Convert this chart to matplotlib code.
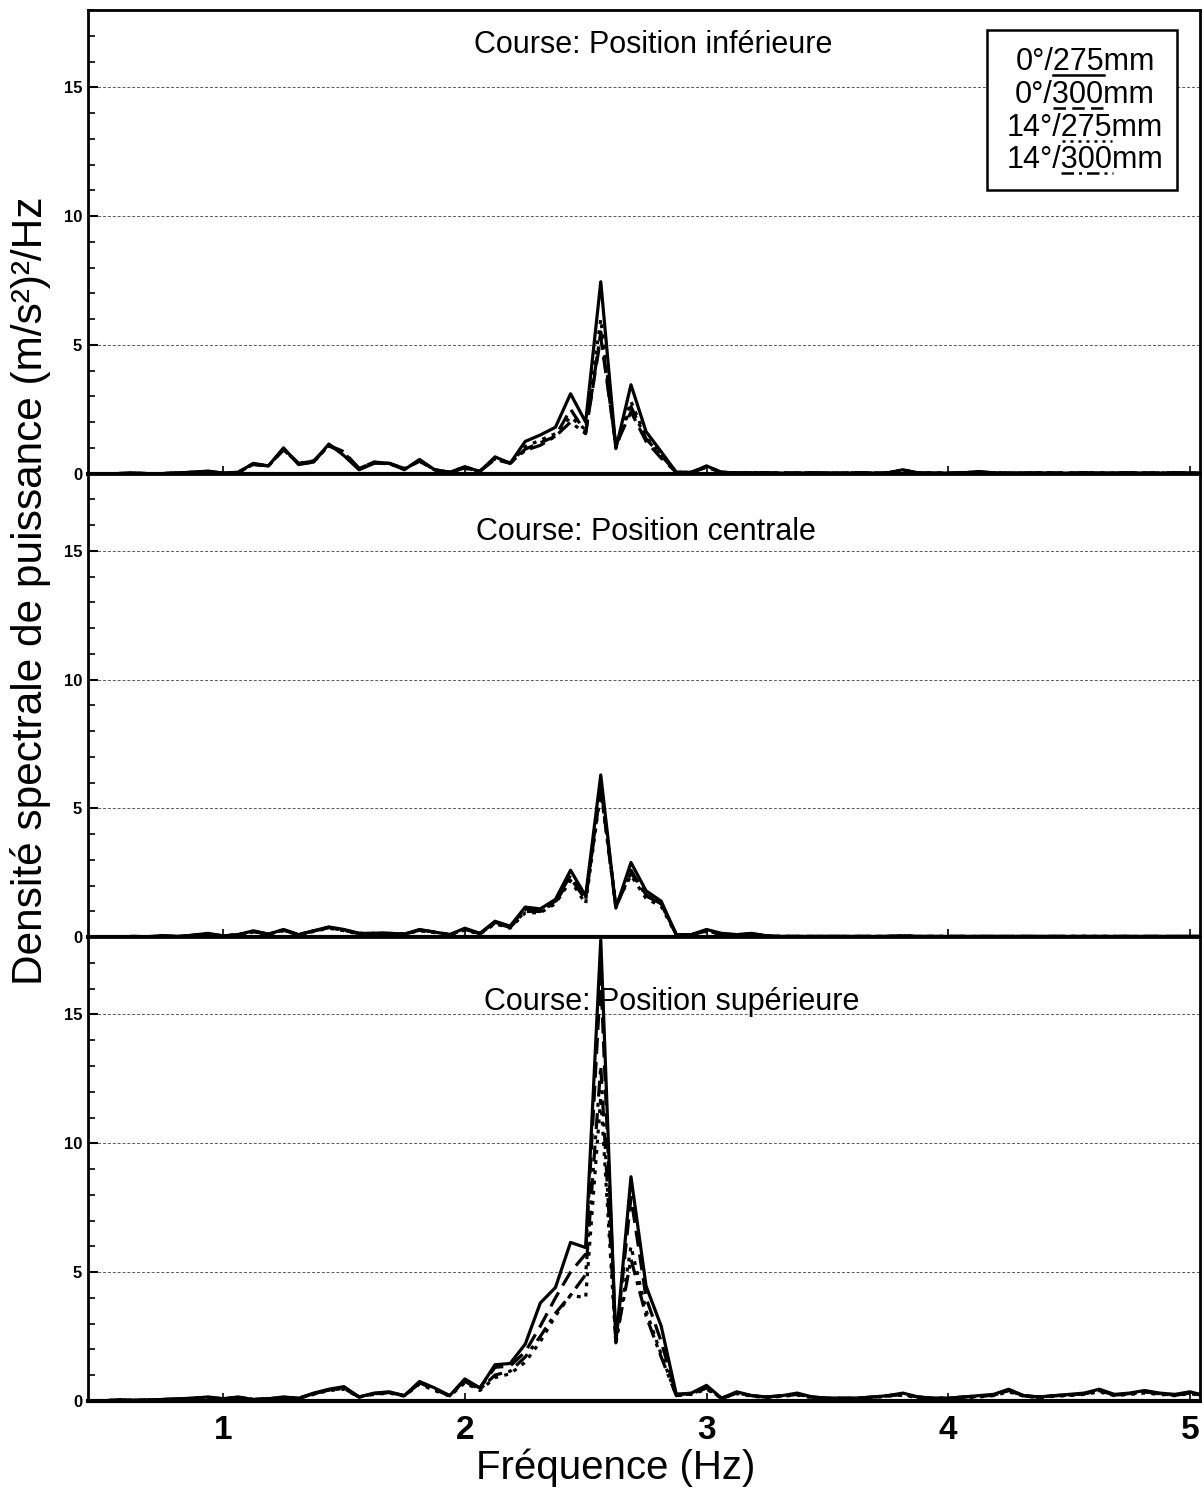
import numpy as np
import matplotlib
matplotlib.use('Agg')
from matplotlib import pyplot as plt
from matplotlib.patches import Rectangle
from matplotlib.ticker import MultipleLocator

plt.rcParams['font.family'] = ['Liberation Sans', 'DejaVu Sans']

# frecuencias (Hz)
freq = [0.4375, 0.5, 0.5625, 0.625, 0.6875, 0.75, 0.8125, 0.875, 0.9375, 1.0,
        1.0625, 1.125, 1.1875, 1.25, 1.3125, 1.375, 1.4375, 1.5, 1.5625, 1.625,
        1.6875, 1.75, 1.8125, 1.875, 1.9375, 2.0, 2.0625, 2.125, 2.1875, 2.25,
        2.3125, 2.375, 2.4375, 2.5, 2.5625, 2.625, 2.6875, 2.75, 2.8125, 2.875,
        2.9375, 3.0, 3.0625, 3.125, 3.1875, 3.25, 3.3125, 3.375, 3.4375, 3.5,
        3.5625, 3.625, 3.6875, 3.75, 3.8125, 3.875, 3.9375, 4.0, 4.0625, 4.125,
        4.1875, 4.25, 4.3125, 4.375, 4.4375, 4.5, 4.5625, 4.625, 4.6875, 4.75,
        4.8125, 4.875, 4.9375, 5.0, 5.0625]

# Course: Position inferieure
inf_0_275 = [0.0, 0.0, 0.0, 0.02, 0.0, 0.0, 0.03, 0.05, 0.1, 0.02,
             0.05, 0.4, 0.3, 1.0, 0.35, 0.45, 1.15, 0.7, 0.15, 0.4,
             0.4, 0.15, 0.55, 0.15, 0.05, 0.27, 0.08, 0.65, 0.4, 1.25,
             1.5, 1.8, 3.1, 2.0, 7.45, 0.97, 3.45, 1.63, 0.85, 0.05,
             0.05, 0.3, 0.05, 0.03, 0.03, 0.03, 0.02, 0.02, 0.03, 0.02,
             0.02, 0.03, 0.02, 0.03, 0.15, 0.03, 0.02, 0.02, 0.03, 0.08,
             0.03, 0.02, 0.02, 0.03, 0.02, 0.02, 0.03, 0.02, 0.02, 0.03,
             0.02, 0.02, 0.03, 0.02, 0.02]
inf_0_300 = [0.0, 0.0, 0.0, 0.02, 0.0, 0.0, 0.03, 0.05, 0.08, 0.02,
             0.05, 0.35, 0.3, 0.95, 0.4, 0.5, 1.1, 0.85, 0.2, 0.45,
             0.4, 0.2, 0.5, 0.15, 0.05, 0.22, 0.1, 0.55, 0.4, 0.95,
             1.2, 1.45, 2.5, 1.6, 5.3, 1.1, 2.4, 1.25, 0.6, 0.05,
             0.05, 0.25, 0.05, 0.03, 0.03, 0.03, 0.02, 0.02, 0.03, 0.02,
             0.02, 0.03, 0.02, 0.03, 0.12, 0.03, 0.02, 0.02, 0.03, 0.06,
             0.03, 0.02, 0.02, 0.03, 0.02, 0.02, 0.03, 0.02, 0.02, 0.03,
             0.02, 0.02, 0.03, 0.02, 0.02]
inf_14_275 = [0.0, 0.0, 0.0, 0.02, 0.0, 0.0, 0.03, 0.05, 0.08, 0.02,
              0.05, 0.38, 0.3, 0.95, 0.38, 0.45, 1.1, 0.75, 0.18, 0.42,
              0.38, 0.17, 0.5, 0.15, 0.05, 0.25, 0.08, 0.6, 0.38, 1.05,
              1.3, 1.55, 2.2, 1.7, 6.0, 1.0, 2.8, 1.4, 0.75, 0.05,
              0.05, 0.28, 0.05, 0.03, 0.03, 0.03, 0.02, 0.02, 0.03, 0.02,
              0.02, 0.03, 0.02, 0.03, 0.14, 0.03, 0.02, 0.02, 0.03, 0.07,
              0.03, 0.02, 0.02, 0.03, 0.02, 0.02, 0.03, 0.02, 0.02, 0.03,
              0.02, 0.02, 0.03, 0.02, 0.02]
inf_14_300 = [0.0, 0.0, 0.0, 0.02, 0.0, 0.0, 0.03, 0.05, 0.08, 0.02,
              0.05, 0.36, 0.3, 0.92, 0.4, 0.48, 1.08, 0.8, 0.2, 0.44,
              0.4, 0.18, 0.48, 0.15, 0.05, 0.2, 0.1, 0.58, 0.42, 0.9,
              1.1, 1.45, 2.0, 1.55, 5.5, 1.05, 2.6, 1.35, 0.7, 0.05,
              0.05, 0.25, 0.05, 0.03, 0.03, 0.03, 0.02, 0.02, 0.03, 0.02,
              0.02, 0.03, 0.02, 0.03, 0.12, 0.03, 0.02, 0.02, 0.03, 0.06,
              0.03, 0.02, 0.02, 0.03, 0.02, 0.02, 0.03, 0.02, 0.02, 0.03,
              0.02, 0.02, 0.03, 0.02, 0.02]

# Course: Position centrale
cen_0_275 = [0.0, 0.02, 0.0, 0.03, 0.02, 0.05, 0.03, 0.08, 0.15, 0.05,
             0.1, 0.25, 0.12, 0.3, 0.1, 0.25, 0.4, 0.3, 0.15, 0.15,
             0.15, 0.12, 0.3, 0.2, 0.1, 0.35, 0.15, 0.62, 0.43, 1.17,
             1.1, 1.47, 2.6, 1.6, 6.3, 1.13, 2.9, 1.8, 1.4, 0.1,
             0.1, 0.3, 0.15, 0.1, 0.15, 0.05, 0.03, 0.03, 0.03, 0.03,
             0.03, 0.03, 0.03, 0.03, 0.05, 0.03, 0.03, 0.03, 0.03, 0.03,
             0.03, 0.03, 0.03, 0.03, 0.03, 0.03, 0.03, 0.03, 0.03, 0.03,
             0.03, 0.03, 0.03, 0.03, 0.03]
cen_0_300 = [0.0, 0.02, 0.0, 0.03, 0.02, 0.05, 0.03, 0.07, 0.12, 0.05,
             0.1, 0.22, 0.12, 0.28, 0.1, 0.25, 0.38, 0.28, 0.15, 0.15,
             0.15, 0.12, 0.28, 0.2, 0.1, 0.3, 0.15, 0.58, 0.4, 1.1,
             1.05, 1.4, 2.4, 1.5, 5.9, 1.2, 2.5, 1.65, 1.3, 0.1,
             0.1, 0.25, 0.12, 0.1, 0.12, 0.05, 0.03, 0.03, 0.03, 0.03,
             0.03, 0.03, 0.03, 0.03, 0.05, 0.03, 0.03, 0.03, 0.03, 0.03,
             0.03, 0.03, 0.03, 0.03, 0.03, 0.03, 0.03, 0.03, 0.03, 0.03,
             0.03, 0.03, 0.03, 0.03, 0.03]
cen_14_275 = [0.0, 0.02, 0.0, 0.03, 0.02, 0.05, 0.03, 0.07, 0.12, 0.05,
              0.1, 0.2, 0.12, 0.25, 0.1, 0.22, 0.35, 0.25, 0.12, 0.15,
              0.15, 0.12, 0.25, 0.18, 0.1, 0.28, 0.12, 0.52, 0.35, 0.95,
              0.95, 1.3, 2.2, 1.3, 5.7, 1.25, 2.4, 1.5, 1.2, 0.08,
              0.1, 0.22, 0.12, 0.08, 0.1, 0.05, 0.03, 0.03, 0.03, 0.03,
              0.03, 0.03, 0.03, 0.03, 0.05, 0.03, 0.03, 0.03, 0.03, 0.03,
              0.03, 0.03, 0.03, 0.03, 0.03, 0.03, 0.03, 0.03, 0.03, 0.03,
              0.03, 0.03, 0.03, 0.03, 0.03]
cen_14_300 = [0.0, 0.02, 0.0, 0.03, 0.02, 0.05, 0.03, 0.07, 0.13, 0.05,
              0.1, 0.22, 0.12, 0.27, 0.1, 0.24, 0.37, 0.27, 0.14, 0.15,
              0.15, 0.12, 0.27, 0.2, 0.1, 0.3, 0.14, 0.55, 0.38, 1.0,
              1.0, 1.35, 2.3, 1.45, 5.8, 1.15, 2.6, 1.6, 1.3, 0.1,
              0.1, 0.25, 0.12, 0.1, 0.12, 0.05, 0.03, 0.03, 0.03, 0.03,
              0.03, 0.03, 0.03, 0.03, 0.05, 0.03, 0.03, 0.03, 0.03, 0.03,
              0.03, 0.03, 0.03, 0.03, 0.03, 0.03, 0.03, 0.03, 0.03, 0.03,
              0.03, 0.03, 0.03, 0.03, 0.03]

# Course: Position superieure
sup_0_275 = [0.0, 0.0, 0.03, 0.02, 0.03, 0.05, 0.08, 0.1, 0.15, 0.08,
             0.15, 0.05, 0.08, 0.15, 0.1, 0.3, 0.45, 0.55, 0.15, 0.3,
             0.35, 0.2, 0.75, 0.5, 0.2, 0.85, 0.5, 1.4, 1.45, 2.2,
             3.8, 4.4, 6.15, 5.95, 17.9, 2.25, 8.7, 4.45, 2.9, 0.25,
             0.3, 0.6, 0.1, 0.35, 0.2, 0.15, 0.2, 0.3, 0.15, 0.1,
             0.1, 0.1, 0.15, 0.2, 0.3, 0.15, 0.1, 0.1, 0.15, 0.2,
             0.25, 0.45, 0.2, 0.15, 0.2, 0.25, 0.3, 0.45, 0.25, 0.3,
             0.4, 0.3, 0.25, 0.35, 0.2]
sup_0_300 = [0.0, 0.0, 0.03, 0.02, 0.03, 0.05, 0.07, 0.1, 0.13, 0.08,
             0.13, 0.05, 0.08, 0.13, 0.1, 0.28, 0.42, 0.5, 0.15, 0.28,
             0.32, 0.2, 0.7, 0.45, 0.2, 0.8, 0.5, 1.3, 1.35, 1.9,
             2.9, 4.0, 5.0, 5.7, 16.5, 2.3, 7.9, 4.0, 2.3, 0.25,
             0.28, 0.5, 0.1, 0.3, 0.2, 0.15, 0.2, 0.25, 0.15, 0.1,
             0.1, 0.1, 0.15, 0.2, 0.25, 0.15, 0.1, 0.1, 0.15, 0.18,
             0.22, 0.4, 0.2, 0.15, 0.2, 0.22, 0.28, 0.4, 0.22, 0.28,
             0.35, 0.28, 0.22, 0.3, 0.2]
sup_14_275 = [0.0, 0.0, 0.03, 0.02, 0.03, 0.05, 0.06, 0.08, 0.12, 0.07,
              0.12, 0.05, 0.07, 0.12, 0.1, 0.25, 0.4, 0.45, 0.15, 0.25,
              0.3, 0.18, 0.65, 0.4, 0.18, 0.7, 0.4, 0.9, 1.05, 1.5,
              2.3, 3.3, 4.1, 4.0, 11.8, 2.2, 6.0, 3.5, 1.8, 0.2,
              0.25, 0.45, 0.1, 0.28, 0.18, 0.12, 0.18, 0.22, 0.12, 0.1,
              0.1, 0.1, 0.12, 0.18, 0.22, 0.12, 0.1, 0.1, 0.12, 0.15,
              0.2, 0.35, 0.18, 0.12, 0.18, 0.2, 0.25, 0.35, 0.2, 0.25,
              0.3, 0.25, 0.2, 0.28, 0.18]
sup_14_300 = [0.0, 0.0, 0.03, 0.02, 0.03, 0.05, 0.07, 0.09, 0.13, 0.08,
              0.13, 0.05, 0.08, 0.13, 0.1, 0.27, 0.42, 0.48, 0.15, 0.27,
              0.32, 0.2, 0.68, 0.45, 0.2, 0.75, 0.45, 1.0, 1.15, 1.7,
              2.5, 3.4, 4.1, 4.9, 13.0, 2.3, 5.5, 3.3, 1.7, 0.2,
              0.27, 0.5, 0.1, 0.3, 0.2, 0.14, 0.2, 0.25, 0.14, 0.1,
              0.1, 0.1, 0.14, 0.2, 0.25, 0.14, 0.1, 0.1, 0.14, 0.17,
              0.22, 0.4, 0.2, 0.14, 0.2, 0.22, 0.27, 0.4, 0.22, 0.27,
              0.35, 0.27, 0.22, 0.3, 0.2]

titulos = ['Course: Position inférieure', 'Course: Position centrale',
           'Course: Position supérieure']
leyenda = ['0°/275mm', '0°/300mm', '14°/275mm', '14°/300mm']
series = [[inf_0_275, inf_0_300, inf_14_275, inf_14_300],
          [cen_0_275, cen_0_300, cen_14_275, cen_14_300],
          [sup_0_275, sup_0_300, sup_14_275, sup_14_300]]

estilos = ['-', (0, (5, 2.5)), (0, (1.2, 2.0)), (0, (5, 2, 1.2, 2))]
pos_titulo = [(0.509, 0.925), (0.502, 0.874), (0.525, 0.860)]

fig, axes = plt.subplots(3, 1, sharex=True, figsize=(12.02, 14.95), dpi=100)
fig.subplots_adjust(left=0.073, right=0.998, bottom=0.063, top=0.9933,
                    hspace=0)

for ax, panel, tit, pt in zip(axes, series, titulos, pos_titulo):
    for s, ls in zip(panel, estilos):
        ax.plot(freq, s, color='k', lw=2.3, ls=ls, zorder=3)
    ax.set_xlim(0.44, 5.04)
    ax.set_ylim(0, 18)
    ax.yaxis.set_major_locator(MultipleLocator(5))
    ax.yaxis.set_minor_locator(MultipleLocator(1))
    ax.xaxis.set_major_locator(MultipleLocator(1))
    ax.grid(axis='y', which='major', ls=(0, (3, 2)), lw=0.7, color='0.35')
    ax.tick_params(axis='y', which='major', direction='in', length=7,
                   width=1.5, pad=4, labelsize=12)
    ax.tick_params(axis='y', which='minor', direction='in', length=5,
                   width=1.2)
    ax.tick_params(axis='x', which='major', direction='in', length=6,
                   width=1.2, pad=10, labelsize=24)
    for lab in ax.get_yticklabels():
        lab.set_fontweight('bold')
    for sp in ['left', 'top', 'right']:
        ax.spines[sp].set_linewidth(2)
    ax.spines['bottom'].set_linewidth(3)
    ax.text(pt[0], pt[1], tit, transform=ax.transAxes, ha='center',
            va='center', fontsize=22, zorder=4)

for lab in axes[2].get_xticklabels():
    lab.set_fontweight('bold')

# leyenda con subrayado del estilo de linea
ax = axes[0]
ax.add_patch(Rectangle((0.809, 0.612), 0.171, 0.345, transform=ax.transAxes,
                       facecolor='white', edgecolor='k', lw=1.8, zorder=5))
ly = [0.888, 0.817, 0.746, 0.677]
fig.canvas.draw()
r = fig.canvas.get_renderer()
inv = ax.transAxes.inverted()
for lab, y, ls in zip(leyenda, ly, estilos):
    t = ax.text(0.897, y, lab, transform=ax.transAxes, ha='center',
                va='center', fontsize=22, zorder=6)
    bb = t.get_window_extent(r)
    pre = lab.split('/')[0] + '/'
    dig = lab.split('/')[1][:3]
    tmp = ax.text(0, 0, pre, fontsize=22)
    wp = tmp.get_window_extent(r).width
    tmp.remove()
    tmp = ax.text(0, 0, pre + dig, fontsize=22)
    wd = tmp.get_window_extent(r).width
    tmp.remove()
    p = inv.transform([(bb.x0 + wp, bb.y0 + 2), (bb.x0 + wd, bb.y0 + 2)])
    ax.plot(p[:, 0], p[:, 1], transform=ax.transAxes, color='k', lw=1.8,
            ls=ls, zorder=6, clip_on=False)

fig.text(0.025, 0.605, 'Densité spectrale de puissance (m/s²)²/Hz',
         rotation=90, ha='center', va='center', fontsize=30.5)
fig.text(0.512, 0.018, 'Fréquence (Hz)', ha='center', va='center',
         fontsize=29)

fig.savefig('out.png', dpi=100)
